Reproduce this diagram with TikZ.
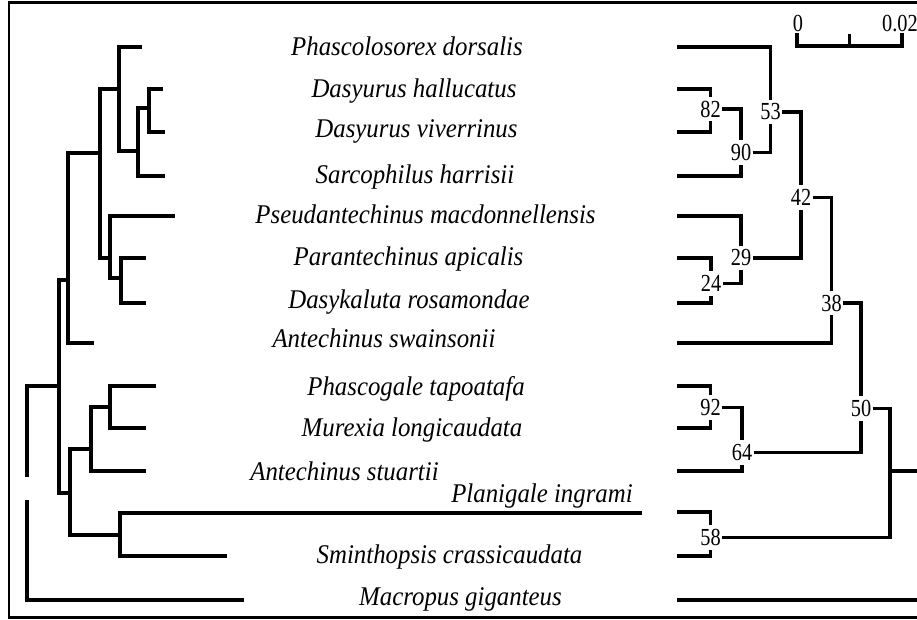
\documentclass[tikz,border=0pt]{standalone}
\usepackage{fontspec}
\setmainfont{Liberation Serif}
\newfontfamily\spfont[FakeStretch=0.92]{Liberation Serif}
\newfontfamily\numfont[FakeStretch=0.83]{Liberation Serif}
\begin{document}
\begin{tikzpicture}[x=1pt,y=-1pt,
  br/.style={line width=3.2pt,line join=miter,line cap=butt},
  sp/.style={font=\spfont\fontsize{27}{31}\selectfont\itshape,anchor=base,inner sep=0pt},
  bs/.style={font=\numfont\fontsize{24.5}{28}\selectfont,inner xsep=1.5pt,inner ysep=4pt},
  frame/.style={line width=2.4pt}]
\useasboundingbox (0,0) rectangle (917,619);
% frame
\draw[frame] (917,2.5) -- (9,2.5) -- (9,617.5) -- (917,617.5);
% species labels
\node[sp] (tPd) at (407,55) {Phascolosorex dorsalis};
\node[sp] (tDh) at (414,97) {Dasyurus hallucatus};
\node[sp] (tDv) at (416.5,137) {Dasyurus viverrinus};
\node[sp] (tSh) at (415,183) {Sarcophilus harrisii};
\node[sp] (tPm) at (425.5,223) {Pseudantechinus macdonnellensis};
\node[sp] (tPa) at (408.5,265) {Parantechinus apicalis};
\node[sp] (tDr) at (409,308) {Dasykaluta rosamondae};
\node[sp] (tAs) at (384,347) {Antechinus swainsonii};
\node[sp] (tPt) at (416,395) {Phascogale tapoatafa};
\node[sp] (tMl) at (412,436) {Murexia longicaudata};
\node[sp] (tSt) at (344.5,480) {Antechinus stuartii};
\node[sp] (tPi) at (542,502) {Planigale ingrami};
\node[sp] (tSc) at (449.5,563) {Sminthopsis crassicaudata};
\node[sp] (tMg) at (460.5,605) {Macropus giganteus};
% left tree (phylogram)
\draw[br] (142,47) -- (119,47) -- (119,151) -- (138,151);
\draw[br] (163,89) -- (149,89) -- (149,132) -- (165,132);
\draw[br] (149,108) -- (138,108) -- (138,176) -- (165,176);
\draw[br] (175,216) -- (110,216) -- (110,278) -- (121,278);
\draw[br] (146,258) -- (121,258) -- (121,303) -- (146,303);
\draw[br] (119,89) -- (100,89) -- (100,258) -- (110,258);
\draw[br] (100,153) -- (68,153) -- (68,343) -- (94,343);
\draw[br] (156,386) -- (110,386) -- (110,428) -- (146,428);
\draw[br] (110,407) -- (91,407) -- (91,471) -- (146,471);
\draw[br] (642,513) -- (120,513) -- (120,556) -- (227,556);
\draw[br] (91,449) -- (70,449) -- (70,535) -- (120,535);
\draw[br] (68,280) -- (59,280) -- (59,493) -- (72,493);
\draw[br] (59,386) -- (27,386) -- (27,477);
\draw[br] (27,500) -- (27,600) -- (244,600);
% right tree (bootstrap cladogram)
\node[bs] (b53) at (770.5,112) {53};
\node[bs] (b82) at (710.5,109) {82};
\node[bs] (b90) at (741,152.5) {90};
\node[bs] (b42) at (801,197.5) {42};
\node[bs] (b29) at (741,258) {29};
\node[bs] (b24) at (711,283.5) {24};
\node[bs] (b38) at (831.5,303) {38};
\node[bs] (b92) at (710.5,407.5) {92};
\node[bs] (b64) at (742,452.5) {64};
\node[bs] (b50) at (861,408.5) {50};
\node[bs] (b58) at (710.5,537.5) {58};
\coordinate (r) at (890,471);
\coordinate (rend) at (917,471);
\draw[br] (677,47) -| (b53);
\draw[br] (677,89) -| (b82);
\draw[br] (677,132) -| (b82);
\draw[br] (b82) -| (b90);
\draw[br] (677,176) -| (b90);
\draw[br] (b90) -| (b53);
\draw[br] (b53) -| (b42);
\draw[br] (677,216) -| (b29);
\draw[br] (677,258) -| (b24);
\draw[br] (677,303) -| (b24);
\draw[br] (b24) -| (b29);
\draw[br] (b29) -| (b42);
\draw[br] (b42) -| (b38);
\draw[br] (677,343) -| (b38);
\draw[br] (b38) -| (b50);
\draw[br] (677,386) -| (b92);
\draw[br] (677,428) -| (b92);
\draw[br] (b92) -| (b64);
\draw[br] (677,471) -| (b64);
\draw[br] (b64) -| (b50);
\draw[br] (677,512) -| (b58);
\draw[br] (677,556) -| (b58);
\draw[br] (b50) -| (r);
\draw[br] (b58) -| (r);
\draw[br] (r) -- (rend);
\draw[br] (677,600) -- (917,600);
% scale bar
\node[bs,inner ysep=1pt] (s0) at (798,23.5) {0};
\node[bs,inner ysep=1pt] (s2) at (900,23.5) {0.02};
\draw[br] (797,33) -- (797,46) -- (902,46) -- (902,33);
\draw[br] (849.5,46) -- (849.5,34);
\end{tikzpicture}
\end{document}
